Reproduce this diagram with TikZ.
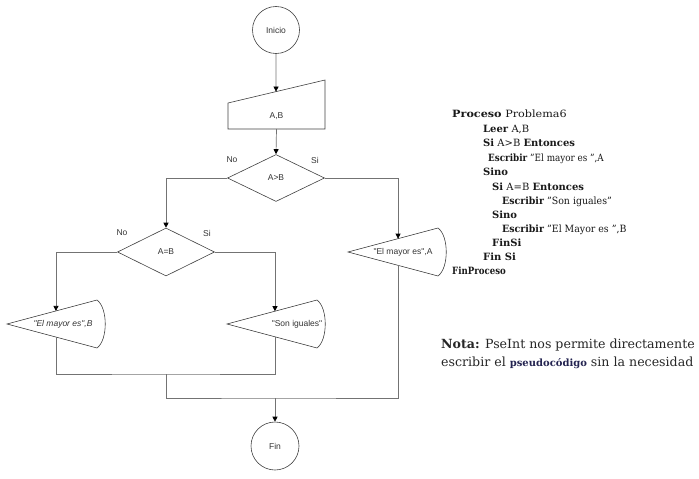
\documentclass[tikz,border=0pt]{standalone}
\usepackage{fontspec}
\setmainfont{DejaVu Serif}
\newfontfamily\flowfont{Liberation Sans}
\usetikzlibrary{arrows.meta,calc,shapes.geometric}
\definecolor{navy}{RGB}{35,35,80}
\newcommand\dq{\symbol{34}}
% display shape: name, tip x, centre y, text, text x offset
\newcommand\dispshape[5]{%
  \coordinate (#1-tip) at (#2,#3);
  \coordinate (#1-ne) at ({#2+90},{#3-24});
  \coordinate (#1-se) at ({#2+90},{#3+24});
  \draw[shp] (#1-tip) -- (#1-ne) .. controls ({#2+101},{#3-16}) and ({#2+101},{#3+16}) .. (#1-se) -- cycle;
  \node[ftext] (#1) at ({#2+#5},#3) {#4};
}
\begin{document}
\begin{tikzpicture}[x=1pt,y=-1pt,
  shp/.style={draw=black!75, line width=0.6pt},
  conn/.style={draw=black!55, line width=0.7pt},
  arr/.style={conn, -{Triangle[length=5pt,width=5pt,color=black]}},
  ftext/.style={font=\flowfont\fontsize{8.5}{9}\selectfont, text=black!80, inner sep=0pt},
  lbl/.style={font=\flowfont\fontsize{8.5}{9}\selectfont, text=black!80, inner sep=0pt},
  code/.style={anchor=base west, font=\fontsize{10}{12}\selectfont, inner sep=0pt, text=black!90},
  nota/.style={anchor=base west, font=\fontsize{12.6}{14}\selectfont, inner sep=0pt, text=black!85},
]
\useasboundingbox (0,0) rectangle (699,479);

% start
\node[shp, circle, minimum size=47pt, inner sep=0pt, ftext] (ini) at (276,30) {Inicio};

% manual input A,B
\coordinate (in-bl) at (228,129);
\coordinate (in-br) at (325,129);
\coordinate (in-tr) at (325,80);
\coordinate (in-tl) at (228,103);
\draw[shp] (in-bl) -- (in-br) -- (in-tr) -- (in-tl) -- cycle;
\node[ftext] (inp) at (276.5,116) {A,B};
\coordinate (in-top) at ($(in-tl)!0.495!(in-tr)$);

% decisions
\node[shp, diamond, minimum width=97pt, minimum height=47pt, inner sep=0pt, ftext] (d1) at (276,178) {A>B};
\node[shp, diamond, minimum width=97pt, minimum height=48pt, inner sep=0pt, ftext] (d2) at (166,252) {A=B};
\node[lbl] (no1) at (232,160) {No};
\node[lbl] (si1) at (315,160) {Si};
\node[lbl] (no2) at (122,233) {No};
\node[lbl] (si2) at (207,233) {Si};

% displays
\dispshape{dA}{348}{252}{\dq El mayor es\dq,A}{55}
\dispshape{dB}{7}{324}{\itshape\dq El mayor es\dq,B}{56}
\dispshape{dS}{227}{324}{\dq Son iguales\dq}{70}
\coordinate (dA-top) at ($(dA-tip)!0.556!(dA-ne)$);
\coordinate (dA-bot) at ($(dA-tip)!0.556!(dA-se)$);
\coordinate (dB-top) at ($(dB-tip)!0.544!(dB-ne)$);
\coordinate (dB-bot) at ($(dB-tip)!0.544!(dB-se)$);
\coordinate (dS-top) at ($(dS-tip)!0.533!(dS-ne)$);
\coordinate (dS-bot) at ($(dS-tip)!0.533!(dS-se)$);

% end
\node[shp, circle, minimum size=48pt, inner sep=0pt, ftext] (fin) at (275,446) {Fin};

% connectors
\draw[arr] (ini.south) -- (in-top);
\draw[arr] (inp |- in-bl) -- (d1.north);
\draw[arr] (d1.west) -| (d2.north);
\draw[arr] (d1.east) -| (dA-top);
\draw[arr] (d2.west) -| (dB-top);
\draw[arr] (d2.east) -| (dS-top);
\coordinate (jL) at (166,374);
\coordinate (jB) at (275,398);
\draw[conn] (dB-bot) |- (jL) -| (dS-bot);
\draw[conn] (jL) |- (jB) -| (dA-bot);
\draw[arr] (jB) -- (fin.north);

% pseudocode
\node[code] (p1) at (452,117) {\scalebox{1.12}[1]{\textbf{Proceso} Problema6}};
\node[code] (p2) at (483,132) {\textbf{Leer} A,B};
\node[code] (p3) at (483,146.5) {\textbf{Si} A>B \textbf{Entonces}};
\node[code] (p4) at (488,161.5) {\scalebox{0.88}[1]{\textbf{Escribir} \dq El mayor es \dq,A}};
\node[code] (p5) at (483,175.5) {\textbf{Sino}};
\node[code] (p6) at (492,190) {\textbf{Si} A=B \textbf{Entonces}};
\node[code] (p7) at (502,204) {\scalebox{0.94}[1]{\textbf{Escribir} \dq Son iguales\dq}};
\node[code] (p8) at (492,218) {\textbf{Sino}};
\node[code] (p9) at (502,232) {\scalebox{0.94}[1]{\textbf{Escribir} \dq El Mayor es \dq,B}};
\node[code] (p10) at (492,246.5) {\textbf{FinSi}};
\node[code] (p11) at (483,260.5) {\textbf{Fin Si}};
\node[code] (p12) at (452,274) {\scalebox{0.86}[1]{\textbf{FinProceso}}};

% note
\node[nota] (n1) at (441,348) {\textbf{Nota:} PseInt nos permite directamente};
\node[nota] (n2) at (441,366) {escribir el {\fontsize{10}{11}\selectfont\bfseries\color{navy}pseudocódigo} sin la necesidad};
\end{tikzpicture}
\end{document}
